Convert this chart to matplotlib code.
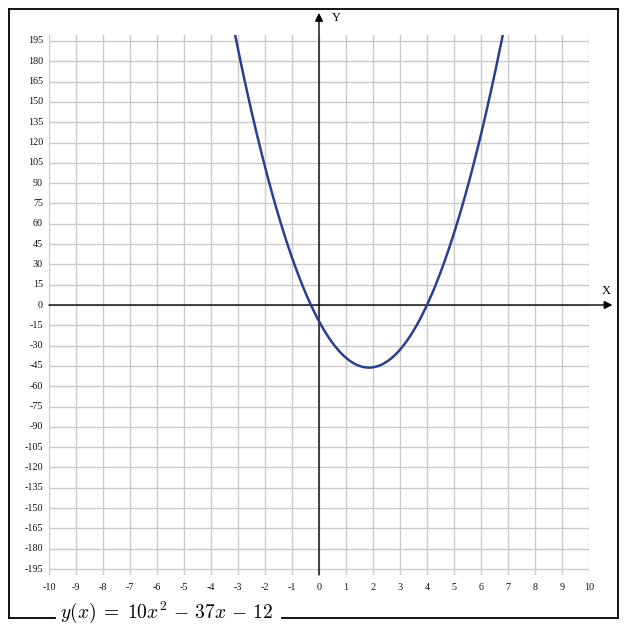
import numpy as np
import matplotlib
matplotlib.use("Agg")
from matplotlib import pyplot as plt
from matplotlib.lines import Line2D

# curve y = 10x^2 - 37x - 12
coeffs = [10, -37, -12]
x_ticks = list(range(-10, 11))
y_ticks = list(range(-195, 196, 15))
formula = r"$y(x)\;=\;10x^2\,-\,37x\,-\,12$"

W, H = 627, 630
YLIM = 199.4


def fx(px):
    return px / W


def fy(py):
    return 1 - py / H


def main():
    plt.rcParams["mathtext.fontset"] = "cm"
    fig = plt.figure(figsize=(W / 100, H / 100), dpi=100)
    fig.patch.set_facecolor("white")

    ax = fig.add_axes([fx(49), fy(575), (589 - 49) / W, (575 - 35) / H])
    ax.set_xlim(-10, 10)
    ax.set_ylim(-YLIM, YLIM)
    ax.axis("off")

    grid_c = "#cbcbcb"
    for xv in x_ticks:
        ax.plot([xv, xv], [-YLIM, YLIM], color=grid_c, lw=1, zorder=1)
    for yv in y_ticks:
        ax.plot([-10, 10], [yv, yv], color=grid_c, lw=1, zorder=1)

    # axes with arrows
    ax.annotate("", xy=(10.87, 0), xytext=(-10, 0), annotation_clip=False,
                arrowprops=dict(arrowstyle="-|>", color="black", lw=1,
                                mutation_scale=12, shrinkA=0, shrinkB=0), zorder=3)
    ax.annotate("", xy=(0, 215.7), xytext=(0, -YLIM), annotation_clip=False,
                arrowprops=dict(arrowstyle="-|>", color="black", lw=1,
                                mutation_scale=12, shrinkA=0, shrinkB=0), zorder=3)

    tick_font = dict(family="Liberation Serif", fontsize=7.3, color="#111111")
    for yv in y_ticks:
        ax.text(-10.22, yv, str(yv), ha="right", va="center", clip_on=False, **tick_font)
    for xv in x_ticks:
        ax.text(xv, -209, str(xv), ha="center", va="center", clip_on=False, **tick_font)

    ax.text(0.48, 212, "Y", ha="left", va="center", family="Liberation Serif",
            fontsize=9, clip_on=False)
    ax.text(10.65, 10.5, "X", ha="center", va="center", family="Liberation Serif",
            fontsize=9, clip_on=False)

    # the curve
    xs = np.linspace(-3.3, 7.0, 600)
    ys = np.polyval(coeffs, xs)
    ax.plot(xs, ys, color="#2a3f92", lw=1.8, zorder=4)

    # frame, bottom edge broken by the formula
    k = dict(color="black", lw=1.3, transform=fig.transFigure)
    fig.add_artist(Line2D([fx(9), fx(618)], [fy(9), fy(9)], **k))
    fig.add_artist(Line2D([fx(9), fx(9)], [fy(9), fy(618)], **k))
    fig.add_artist(Line2D([fx(618), fx(618)], [fy(9), fy(618)], **k))
    fig.add_artist(Line2D([fx(9), fx(55)], [fy(618), fy(618)], **k))
    fig.add_artist(Line2D([fx(282), fx(618)], [fy(618), fy(618)], **k))

    fig.text(fx(167), fy(612), formula, ha="center", va="center", fontsize=14)

    fig.savefig("out.png", dpi=100)


if __name__ == '__main__':
    main()
